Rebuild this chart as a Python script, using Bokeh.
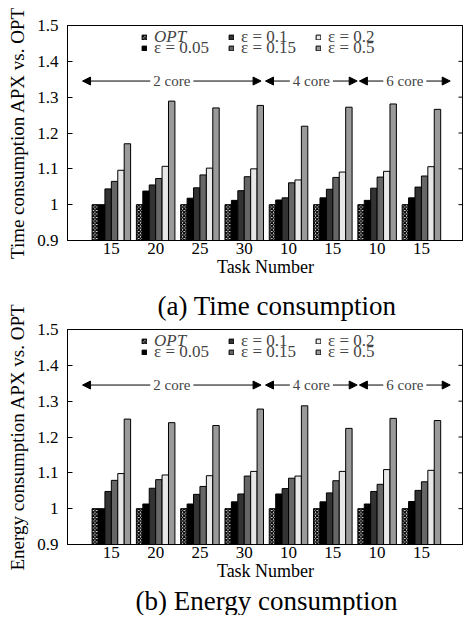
import numpy as np
from bokeh.plotting import figure
from bokeh.models import (ColumnDataSource, FixedTicker, NumeralTickFormatter, Legend,
                          LegendItem, Arrow, NormalHead, Label, Range1d, Title)
from bokeh.layouts import column
from bokeh.transform import dodge
from bokeh.embed import file_html
from bokeh.resources import INLINE

# ---------------- data ----------------
tasks = ["15", "20", "25", "30", "10", "15", "10", "15"]
series_labels = ["OPT", "ε = 0.05", "ε = 0.1", "ε = 0.15", "ε = 0.2", "ε = 0.5"]

time_opt = [1.0, 1.0, 1.0, 1.0, 1.0, 1.0, 1.0, 1.0]
time_e005 = [1.000, 1.038, 1.018, 1.012, 1.013, 1.019, 1.012, 1.019]
time_e01 = [1.044, 1.055, 1.047, 1.039, 1.019, 1.043, 1.046, 1.049]
time_e015 = [1.065, 1.073, 1.083, 1.078, 1.061, 1.076, 1.077, 1.080]
time_e02 = [1.096, 1.107, 1.102, 1.100, 1.069, 1.091, 1.093, 1.106]
time_e05 = [1.170, 1.289, 1.270, 1.277, 1.219, 1.272, 1.281, 1.266]

energy_opt = [1.0, 1.0, 1.0, 1.0, 1.0, 1.0, 1.0, 1.0]
energy_e005 = [1.000, 1.013, 1.013, 1.019, 1.041, 1.019, 1.013, 1.020]
energy_e01 = [1.048, 1.057, 1.040, 1.041, 1.056, 1.044, 1.048, 1.051]
energy_e015 = [1.079, 1.081, 1.062, 1.091, 1.085, 1.078, 1.068, 1.075]
energy_e02 = [1.098, 1.094, 1.092, 1.104, 1.091, 1.104, 1.109, 1.107]
energy_e05 = [1.250, 1.240, 1.232, 1.278, 1.287, 1.224, 1.252, 1.246]

core_labels = ["2 core", "4 core", "6 core"]
core_start = [0.35, 4.48, 6.60]
core_end = [4.38, 6.55, 8.65]
core_y = 1.345

y_ticks = [0.9, 1.0, 1.1, 1.2, 1.3, 1.4, 1.5]

captions = ["(a) Time consumption", "(b) Energy consumption"]

# ---------------- style ----------------
FONT = "Liberation Serif"
colors = ["white", "#000000", "#333333", "#666666", "#e8e8e8", "#9a9a9a"]
BAR_W = 0.145
X_START, X_END = 0.01, 8.95
Y_START, Y_END = 0.9, 1.5
FRAME_W, FRAME_H = 396, 215


def caption_title(text, offset, standoff):
    return Title(text=text, text_font=FONT, text_font_size="27px",
                 text_font_style="normal", text_color="black", align="left",
                 offset=offset, standoff=standoff)


def make_chart(vals, ylabel, top_border):
    xs = np.arange(1, len(tasks) + 1)
    data = {"x": xs}
    keys = ["s%d" % i for i in range(len(vals))]
    for k, v in zip(keys, vals):
        data[k] = v
    src = ColumnDataSource(data)

    p = figure(frame_width=FRAME_W, frame_height=FRAME_H, output_backend="svg",
               toolbar_location=None, x_range=Range1d(X_START, X_END),
               y_range=Range1d(Y_START, Y_END), title=None,
               min_border_left=67, min_border_right=0, min_border_top=top_border,
               min_border_bottom=0)
    p.grid.visible = False
    p.outline_line_color = "black"
    p.outline_line_width = 1
    p.background_fill_color = "white"
    p.border_fill_color = "white"

    rends = []
    n = len(vals)
    for i, k in enumerate(keys):
        off = (i - (n - 1) / 2) * BAR_W
        kw = dict(x=dodge("x", off, range=p.x_range), top=k, bottom=Y_START, width=BAR_W,
                  source=src, fill_color=colors[i], line_color="black", line_width=1)
        if i == 0:
            kw.update(hatch_pattern="x", hatch_color="black", hatch_scale=3.5,
                      hatch_weight=1.4)
        rends.append(p.vbar(**kw))

    # mirrored tick marks on the right edge
    p.ray(x=X_END, y=y_ticks, length=5, angle=np.pi, length_units="screen",
          line_color="black", line_width=1)

    # x axis
    xa = p.xaxis[0]
    xa.ticker = FixedTicker(ticks=list(xs))
    xa.major_label_overrides = {int(x): t for x, t in zip(xs, tasks)}
    xa.major_tick_in = 0
    xa.major_tick_out = 0
    xa.minor_tick_line_color = None
    xa.axis_line_color = "black"
    xa.major_label_standoff = 2
    xa.major_label_text_font = FONT
    xa.major_label_text_font_size = "17px"
    xa.major_label_text_color = "black"
    xa.axis_label = "Task Number"
    xa.axis_label_standoff = 0
    xa.axis_label_text_font = FONT
    xa.axis_label_text_font_size = "18px"
    xa.axis_label_text_font_style = "normal"
    xa.axis_label_text_color = "black"

    # y axis
    ya = p.yaxis[0]
    ya.ticker = FixedTicker(ticks=y_ticks)
    ya.formatter = NumeralTickFormatter(format="0.[0]")
    ya.major_tick_in = 5
    ya.major_tick_out = 0
    ya.minor_tick_line_color = None
    ya.major_label_standoff = 9
    ya.major_label_text_font = FONT
    ya.major_label_text_font_size = "17px"
    ya.major_label_text_color = "black"
    ya.axis_label = ylabel
    ya.axis_label_standoff = 6
    ya.axis_label_text_font = FONT
    ya.axis_label_text_font_size = "19px"
    ya.axis_label_text_font_style = "normal"
    ya.axis_label_text_color = "black"

    # core spans
    for lab, s, e in zip(core_labels, core_start, core_end):
        for tip in (s, e):
            p.add_layout(Arrow(x_start=(s + e) / 2, y_start=core_y, x_end=tip, y_end=core_y,
                               line_width=1, line_color="black",
                               end=NormalHead(size=8, fill_color="black",
                                              line_color="black")))
        p.add_layout(Label(x=(s + e) / 2, y=core_y, text=lab, text_align="center",
                           text_baseline="middle", text_font=FONT, text_font_size="15px",
                           background_fill_color="white", padding=3))

    # legends (two overlapping rows, three columns)
    common = dict(padding=0, margin=0, border_line_color=None, background_fill_alpha=0,
                  glyph_width=6, glyph_height=6, label_standoff=7, label_height=10,
                  label_text_font=FONT, label_text_font_size="17px", spacing=0,
                  label_width=74, orientation="horizontal", label_text_baseline="middle")
    leg_opt = Legend(items=[LegendItem(label=series_labels[0], renderers=[rends[0]])],
                     location=(74, 193), label_text_font_style="italic", **common)
    leg_r1 = Legend(items=[LegendItem(label=series_labels[2], renderers=[rends[2]]),
                           LegendItem(label=series_labels[4], renderers=[rends[4]])],
                    location=(161, 193), **common)
    leg_r2 = Legend(items=[LegendItem(label=series_labels[1], renderers=[rends[1]]),
                           LegendItem(label=series_labels[3], renderers=[rends[3]]),
                           LegendItem(label=series_labels[5], renderers=[rends[5]])],
                    location=(74, 182), **common)
    for lg in (leg_opt, leg_r1, leg_r2):
        p.add_layout(lg, "center")
    return p


p1 = make_chart([time_opt, time_e005, time_e01, time_e015, time_e02, time_e05],
                "Time consumption APX vs. OPT", 25)
p2 = make_chart([energy_opt, energy_e005, energy_e01, energy_e015, energy_e02, energy_e05],
                "Energy consumption APX vs. OPT", 48)
# caption (a) sits at the top of the second canvas, caption (b) below the second chart
p2.add_layout(caption_title(captions[0], 90, 18), "above")
p2.add_layout(caption_title(captions[1], 68, 0), "below")

layout = column(p1, p2, spacing=0)
open("out.html", "w").write(file_html(layout, INLINE))
